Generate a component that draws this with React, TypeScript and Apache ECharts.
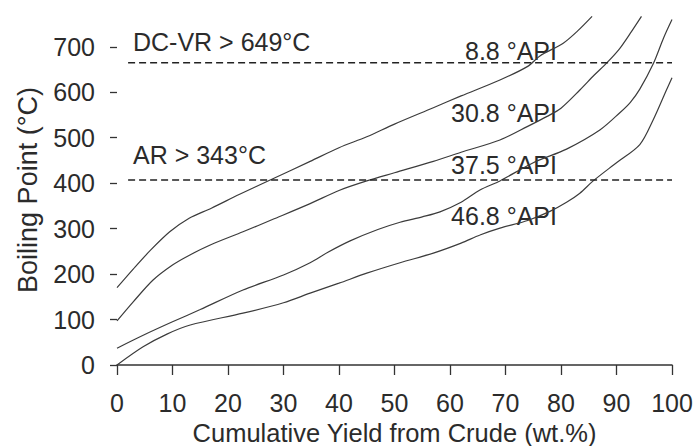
import React, { useEffect, useRef } from "react";
import * as echarts from "echarts";

// Tick values
const xTicks = [0, 10, 20, 30, 40, 50, 60, 70, 80, 90, 100];
const yTicks = [0, 100, 200, 300, 400, 500, 600, 700];

// Distillation curves [cumulative yield wt.%, boiling point]
const api88 = [
  [0, 170], [3, 212], [6, 252], [9.5, 293], [13, 323], [17, 345], [22, 375],
  [27.6, 407], [34.8, 448], [40, 478], [45, 502], [50, 530], [57, 566],
  [62, 592], [69, 627], [74, 657], [76.2, 680], [80.4, 708], [83, 735], [85.6, 767],
];
const api308 = [
  [0, 97], [3, 140], [6.5, 187], [10, 220], [12.8, 240], [17, 265], [22.7, 293],
  [28, 320], [34.8, 355], [40, 384], [45, 405], [50, 423], [57, 448], [62, 468],
  [69, 495], [74, 525], [77.5, 547], [80, 565], [83.4, 605], [86, 638],
  [88.2, 664], [90.5, 695], [92.5, 730], [94.5, 767],
];
const api375 = [
  [0, 37], [5, 67], [10, 95], [15, 122], [22.7, 165], [30, 198], [34.8, 225],
  [38, 248], [42, 273], [47, 298], [51, 314], [55, 326], [58.2, 337], [62, 358],
  [65.4, 385], [69, 405], [75, 445], [81, 475], [87, 517], [90.6, 555],
  [92.5, 578], [94.2, 607], [96.6, 662], [98.5, 720], [100, 760],
];
const api468 = [
  [0, 0], [4.7, 40], [9, 68], [13.2, 88], [22.7, 114], [30, 137], [34.8, 158],
  [40, 180], [45, 202], [51, 225], [57, 246], [62, 268], [65.4, 286], [69, 301],
  [74, 318], [78, 338], [81, 358], [83.4, 378], [85.8, 405], [90, 445],
  [94.2, 485], [96.6, 539], [99, 605], [100, 632],
];

// Cut-point reference lines [[x start, level], [x end, level]]
const dcVrLine = [[2, 665], [100, 665]];
const arLine = [[2, 407], [100, 407]];

const FONT = "'Liberation Sans', Arial, Helvetica, sans-serif";
const TXT = "#2b2b2b";
const LINE = "#3c3c3c";

export default function App() {
  const ref = useRef<HTMLDivElement>(null);
  useEffect(() => {
    if (!ref.current) return;
    const chart = echarts.init(ref.current, undefined, { renderer: "svg" });
    const curve = (name: string, data: number[][]) => ({
      name,
      type: "line",
      data,
      showSymbol: false,
      smooth: 0.3,
      clip: true,
      lineStyle: { color: LINE, width: 1.2 },
    });
    const dashed = (name: string, data: number[][]) => ({
      name,
      type: "line",
      data,
      showSymbol: false,
      lineStyle: { color: "#222", width: 1.3, type: [7, 4] },
    });
    const txt = (text: string, x: number, y: number, align: string) => ({
      type: "text",
      x,
      y,
      style: {
        text,
        fill: TXT,
        font: `25px ${FONT}`,
        textAlign: align,
        textVerticalAlign: "middle",
      },
    });
    chart.setOption({
      animation: false,
      backgroundColor: "#fff",
      grid: {
        left: 117,
        right: 22,
        top: 15,
        bottom: 81,
        containLabel: false,
        outerBoundsMode: "none",
      },
      xAxis: {
        type: "value",
        min: 0,
        max: 100,
        interval: 10,
        name: "Cumulative Yield from Crude (wt.%)",
        nameLocation: "middle",
        nameGap: 49,
        nameTextStyle: { fontSize: 25.5, color: TXT, fontFamily: FONT, lineHeight: 25 },
        axisLine: { show: true, lineStyle: { color: "#333", width: 1.5 } },
        axisTick: { show: true, length: 10, inside: false, lineStyle: { color: "#333", width: 1.3 } },
        axisLabel: { fontSize: 25, color: TXT, fontFamily: FONT, margin: 25, customValues: xTicks },
        splitLine: { show: false },
      },
      yAxis: {
        type: "value",
        min: 0,
        max: 770,
        name: "Boiling Point (°C)",
        nameLocation: "middle",
        nameRotate: 90,
        nameGap: 76,
        nameTextStyle: { fontSize: 27, color: TXT, fontFamily: FONT },
        axisLine: { show: false },
        axisTick: { show: true, length: 7, customValues: yTicks, lineStyle: { color: "#333", width: 1.3 } },
        axisLabel: { fontSize: 25, color: TXT, fontFamily: FONT, margin: 22, customValues: yTicks },
        splitLine: { show: false },
      },
      series: [
        curve("8.8 °API", api88),
        curve("30.8 °API", api308),
        curve("37.5 °API", api375),
        curve("46.8 °API", api468),
        dashed("DC-VR", dcVrLine),
        dashed("AR", arLine),
      ],
      graphic: [
        txt("DC-VR > 649°C", 133, 42, "left"),
        txt("AR > 343°C", 133, 155, "left"),
        txt("8.8 °API", 557, 51, "right"),
        txt("30.8 °API", 557, 113, "right"),
        txt("37.5 °API", 557, 165, "right"),
        txt("46.8 °API", 557, 216, "right"),
      ],
    });
    return () => chart.dispose();
  }, []);
  return (
    <div
      ref={ref}
      style={{ position: "fixed", left: 0, top: 0, width: 694, height: 446, background: "#fff" }}
    />
  );
}
